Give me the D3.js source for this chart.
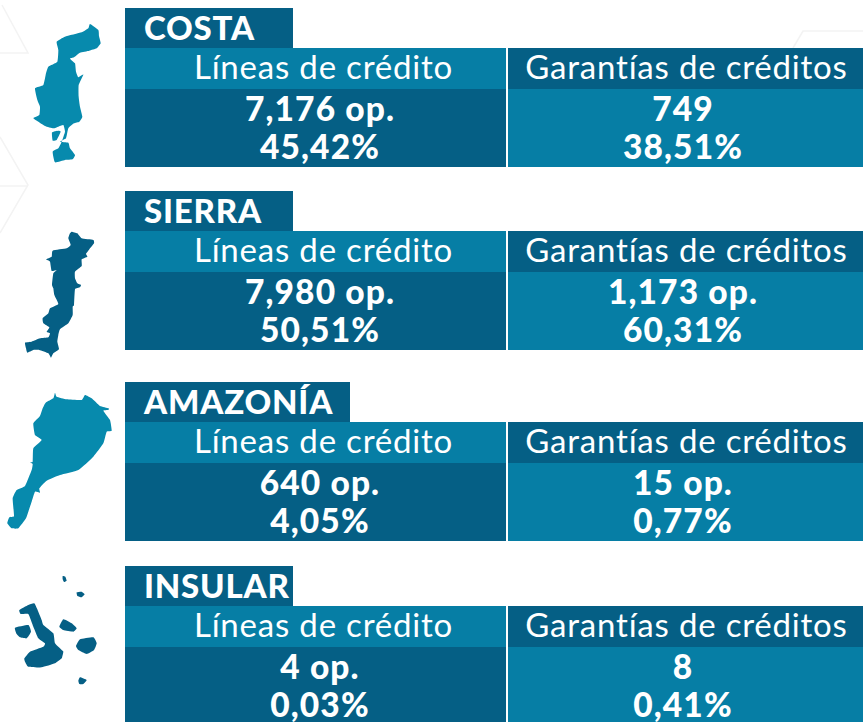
<!DOCTYPE html>
<html>
<head>
<meta charset="utf-8">
<script src="https://cdn.jsdelivr.net/npm/d3@7"></script>
<style>
  html, body { margin: 0; padding: 0; background: #fff; }
  svg { display: block; }
  text { font-family: Lato, "Open Sans", sans-serif; fill: #fff; text-anchor: middle; }
</style>
</head>
<body>
<div id="chart"></div>
<script>
// values
var regions = ["COSTA", "SIERRA", "AMAZONÍA", "INSULAR"];
var columns = ["Líneas de crédito", "Garantías de créditos"];
var lineasOps = ["7,176 op.", "7,980 op.", "640 op.", "4 op."];
var lineasPct = ["45,42%", "50,51%", "4,05%", "0,03%"];
var garantiasOps = ["749", "1,173 op.", "15 op.", "8"];
var garantiasPct = ["38,51%", "60,31%", "0,77%", "0,41%"];

var costaMap = [
  [[270,72],[295,90],[297,108],[302,130],[290,145],[268,152],[240,158],[222,172],[210,176],[225,190],[228,215],[235,232],[250,224],[236,255],[236,290],[240,320],[247,350],[238,365],[222,370],[205,385],[198,415],[180,425],[205,428],[210,445],[225,465],[218,478],[195,480],[165,487],[158,455],[175,445],[185,425],[195,395],[190,375],[175,380],[160,385],[135,378],[100,355],[118,345],[120,320],[112,300],[105,265],[130,255],[138,220],[145,200],[172,185],[175,150],[170,125],[195,110],[245,97],[265,85]],
  [[156,397],[175,392],[182,395],[170,420],[158,422]]
];
var sierraMap = [
  [[215,125],[232,130],[245,145],[280,150],[282,160],[268,178],[258,192],[262,200],[245,208],[245,228],[225,245],[225,265],[232,280],[243,285],[240,292],[225,298],[222,345],[218,350],[218,375],[205,400],[180,418],[175,435],[172,455],[177,478],[160,490],[153,503],[145,490],[118,480],[100,480],[82,488],[78,475],[75,458],[95,455],[120,445],[145,442],[150,430],[140,425],[148,412],[130,400],[128,385],[145,370],[150,355],[175,342],[163,315],[160,295],[156,285],[160,250],[170,240],[155,243],[150,215],[138,208],[155,200],[158,182],[200,175],[212,165],[205,145],[210,130]]
];
var amazoniaMap = [
  [[165,38],[170,50],[200,58],[245,60],[255,45],[275,55],[300,78],[326,85],[325,90],[310,92],[330,120],[335,152],[320,155],[310,190],[280,230],[235,270],[180,285],[140,302],[118,325],[120,338],[105,335],[95,365],[85,395],[78,415],[55,445],[35,445],[22,430],[28,412],[42,408],[38,355],[50,330],[75,318],[95,270],[98,252],[90,247],[98,245],[100,205],[125,180],[105,165],[100,130],[120,108],[128,85],[137,68],[160,55]]
];
var insularMap = [
  [[188,48],[196,50],[200,62],[192,66],[188,58]],
  [[230,97],[245,95],[254,103],[245,112],[232,108]],
  [[58,150],[85,135],[103,130],[115,155],[125,180],[130,195],[160,220],[165,250],[185,270],[190,275],[185,295],[165,310],[125,322],[85,320],[75,305],[73,295],[90,275],[130,260],[135,250],[115,235],[100,200],[85,162],[62,162]],
  [[45,203],[85,195],[93,215],[80,235],[60,232],[50,222]],
  [[190,178],[215,190],[230,205],[220,215],[190,210],[178,200]],
  [[240,238],[280,232],[290,250],[282,270],[260,282],[235,270],[228,258]],
  [[240,352],[260,360],[250,372],[238,372],[235,362]]
];

var regionMaps = [costaMap, sierraMap, amazoniaMap, insularMap];
var mapColors = ["#078aad", "#055f85", "#078aad", "#055f85"];
var mapTop = [0, 190, 380, 560];

// page layout
var width = 863, height = 722;
var sectionTop = [8, 191, 382, 566];
var tabWidth = [168, 168, 225, 168];
var darkBlue = "#055f85", lightBlue = "#067ea5";

var svg = d3.select("#chart").append("svg")
  .attr("width", width)
  .attr("height", height);

// faint chevrons behind everything
var deco = svg.append("g")
  .attr("fill", "none")
  .attr("stroke", "#f3f3f3")
  .attr("stroke-width", 1.5);
deco.append("path").attr("d", "M2,5L28,53H0");
deco.append("path").attr("d", "M0,137L28,185L0,233M28,186H0");
deco.append("path").attr("d", "M793,48L803,31H863");

var colLeft = d3.scaleOrdinal().domain(columns).range([125, 508]);
var colWidth = d3.scaleOrdinal().domain(columns).range([381, 355]);
var colMid = d3.scaleOrdinal().domain(columns).range([323.5, 686.5]);
var valueMid = d3.scaleOrdinal().domain(columns).range([320, 683]);

// crops were 3x, so scale back down
var mapX = d3.scaleLinear().domain([0, 900]).range([0, 300]);
var mapY = d3.scaleLinear().domain([0, 900]).range([0, 300]);

var outline = d3.line()
  .x(function(d) { return mapX(d[0]); })
  .y(function(d) { return mapY(d[1]); })
  .curve(d3.curveCardinalClosed.tension(0.6));

regions.forEach(function(region, i) {
  var g = svg.append("g").attr("transform", "translate(0," + sectionTop[i] + ")");

  // map of the region
  svg.append("g")
    .attr("transform", "translate(0," + mapTop[i] + ")")
    .selectAll("path")
    .data(regionMaps[i])
    .enter()
    .append("path")
      .attr("d", outline)
      .attr("fill", mapColors[i]);

  // title tab
  g.append("rect")
    .attr("x", 125)
    .attr("y", 0)
    .attr("width", tabWidth[i])
    .attr("height", 40)
    .attr("fill", darkBlue);
  g.append("text")
    .text(region)
    .attr("x", 144)
    .attr("y", 31.5)
    .style("text-anchor", "start")
    .style("font-size", "33px")
    .style("letter-spacing", "0.8px")
    .style("font-weight", 900);

  var bodies = [[lineasOps[i], lineasPct[i]], [garantiasOps[i], garantiasPct[i]]];
  columns.forEach(function(col, j) {
    // header row
    g.append("rect")
      .attr("x", colLeft(col))
      .attr("y", 40)
      .attr("width", colWidth(col))
      .attr("height", 41)
      .attr("fill", j == 0 ? lightBlue : darkBlue);
    g.append("text")
      .text(col)
      .attr("x", colMid(col))
      .attr("y", 70.5)
      .style("font-size", "33px")
      .style("letter-spacing", "0.8px");
    // values
    g.append("rect")
      .attr("x", colLeft(col))
      .attr("y", 81)
      .attr("width", colWidth(col))
      .attr("height", 78)
      .attr("fill", j == 0 ? darkBlue : lightBlue);
    g.selectAll("text.val" + j)
      .data(bodies[j])
      .enter()
      .append("text")
        .attr("class", "val" + j)
        .text(function(d) { return d; })
        .attr("x", valueMid(col))
        .attr("y", function(d, k) { return 113 + k * 38; })
        .style("font-size", "33.5px")
        .style("letter-spacing", "1.1px")
        .style("font-weight", 900);
  });
});
</script>
</body>
</html>
